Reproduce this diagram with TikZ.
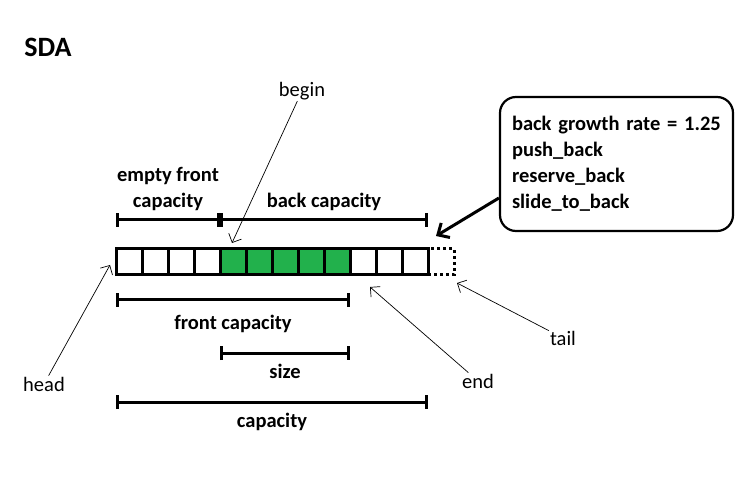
\documentclass[tikz,border=0pt]{standalone}
\usepackage{fontspec}
\setmainfont{Carlito}
\usetikzlibrary{arrows.meta, positioning, calc}
\definecolor{cellgreen}{RGB}{34,177,76}

\begin{document}
\begin{tikzpicture}[x=1pt, y=-1pt,
                cell/.style={draw, line width=3pt, minimum size=26pt, inner sep=0pt, outer sep=0pt},
                dim/.style={line width=3pt, {Bar[width=14pt]}-{Bar[width=14pt]}},
                lbl/.style={inner sep=0pt, font=\bfseries\fontsize{20.5}{26}\selectfont},
                note/.style={inner sep=1pt, font=\fontsize{20.5}{24}\selectfont},
                ptr/.style={line width=0.7pt, -{Straight Barb[length=7pt, width=14pt]}},
                opsbox/.style={draw, line width=2.2pt, rounded corners=16pt, minimum width=233pt, minimum height=134pt,
                               text width=209pt, inner xsep=12pt, align=left, font=\bfseries\fontsize{20.5}{26}\selectfont}]
                \useasboundingbox (0,0) rectangle (755,478);
                \node[font=\bfseries\fontsize{28}{32}\selectfont] (title) at (48,47) {SDA};
                % the array
                \foreach \i [evaluate=\i as \f using {int(100*(\i>4)*(\i<10))}] in {1,...,12}
                    \node[cell, fill=cellgreen!\f!white] (c\i) at (103+26*\i, 262) {};
                \node[cell, dash pattern=on 3pt off 3pt, anchor=west] (spare) at (c12.east) {};
                % capacities
                \draw[dim] ([yshift=42pt]c1.west) -- ([yshift=42pt]c5.west)
                    node[midway, above=8pt, lbl, align=center] (efc) {empty front\\capacity};
                \draw[dim] ([yshift=42pt]c5.west) -- ([yshift=42pt]c12.east)
                    node[midway, above=8pt, lbl] (bc) {back capacity};
                \draw[dim] ([yshift=-38pt]c1.west) -- ([yshift=-38pt]c9.east)
                    node[midway, below=14pt, lbl] (fc) {front capacity};
                \draw[dim] ([yshift=-91pt]c5.west) -- ([yshift=-91pt]c9.east)
                    node[midway, below=10pt, lbl] (sz) {size};
                \draw[dim] ([yshift=-140pt]c1.west) -- ([yshift=-140pt]c12.east)
                    node[midway, below=10pt, lbl] (cap) {capacity};
                % back operations
                \node[opsbox] (ops) at (616.5,164) {back growth rate = 1.25\\push\_back\\reserve\_back\\slide\_to\_back};
                \draw[line width=3pt, -{Straight Barb[length=9pt, width=17pt]}] ([yshift=-34pt]ops.west) -- ([shift={(8pt,13pt)}]c12.north east);
                % pointers
                \node[note] (begin) at (302,91) {begin};
                \node[note] (head) at (44,384) {head};
                \node[note] (end) at (478,381) {end};
                \node[note] (tail) at (563,338) {tail};
                \draw[ptr] (begin) -- ([shift={(12pt,6pt)}]c5.north west);
                \draw[ptr] (head) -- ([shift={(-6pt,-3pt)}]c1.west);
                \draw[ptr] (end) -- ([shift={(7pt,-12pt)}]c10.south);
                \draw[ptr] (tail) -- ([shift={(3pt,-8pt)}]spare.south east);
            \end{tikzpicture}
\end{document}
